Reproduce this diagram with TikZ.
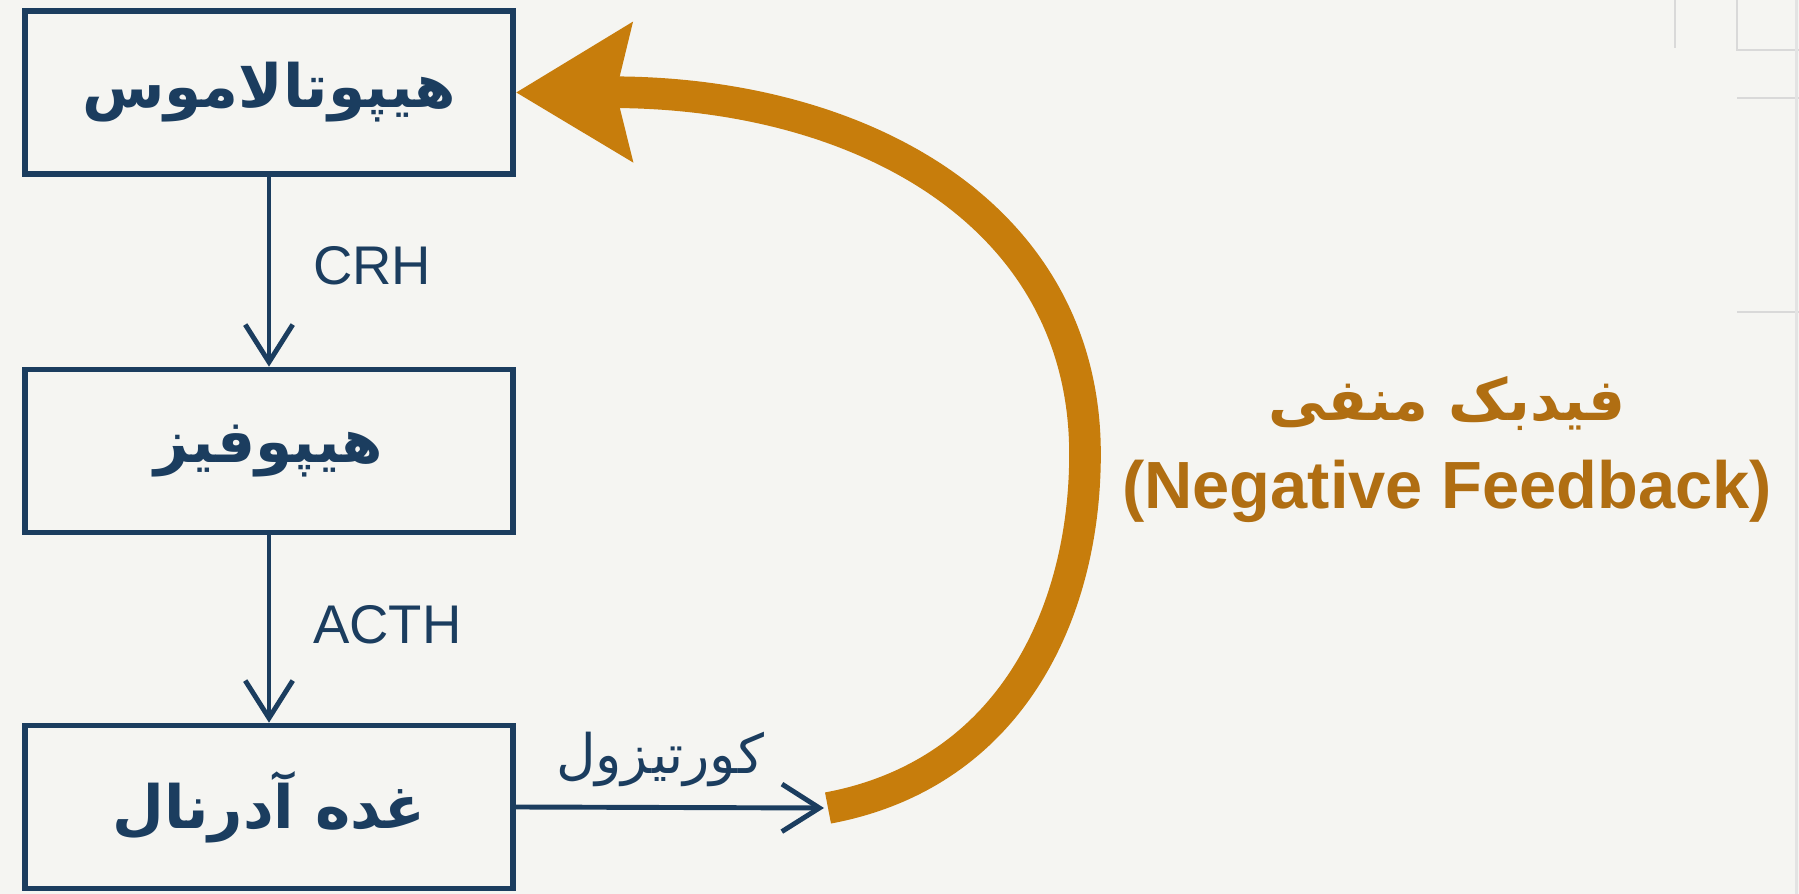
\documentclass[tikz,border=0pt]{standalone}
\usepackage{fontspec}
\setmainfont{Liberation Sans}
\newfontfamily\fafont[Script=Arabic]{DejaVu Sans}
\TeXXeTstate=1
\usetikzlibrary{arrows.meta,positioning}
\definecolor{navy}{HTML}{1B3D5F}
\definecolor{fborange}{HTML}{C77D0C}
\definecolor{fbtext}{HTML}{B06E12}
\definecolor{paper}{HTML}{F5F5F2}

\begin{document}
\begin{tikzpicture}[
  organ/.style={draw=navy, line width=3.2pt, minimum width=9.76cm, minimum height=3.26cm,
    text=navy, font=\fafont\bfseries\fontsize{34}{40}\selectfont},
  hormone/.style={text=navy, anchor=west, font=\fontsize{31}{36}\selectfont},
  flow/.style={draw=navy, line width=2.8pt, -{Straight Barb[length=0.75cm,width=0.95cm]}},
  feedback/.style={draw=fborange, line width=18pt, -{Stealth[length=2.3cm,width=2.7cm,inset=0.3cm]}},
  margin/.style={draw=gray!30, line width=1.6pt}
]

  % =========================
  % paper
  % =========================
  \fill[paper] (0,0) rectangle (35.98,17.88);
  \useasboundingbox (0,0) rectangle (35.98,17.88);

  % faint page lines, top right
  \draw[margin] (33.5,17.88) -- (33.5,16.92);
  \draw[margin] (34.74,17.88) -- (34.74,16.88) -- (35.98,16.88);
  \draw[margin] (34.74,15.92) -- (35.98,15.92);
  \draw[margin] (34.74,11.64) -- (35.98,11.64);
  \draw[margin, draw=gray!22] (35.93,17.88) -- (35.93,0);

  % =========================
  % axis of glands
  % =========================
  \node[organ] (hypo)    at (5.38,16.03) {\beginR هیپوتالاموس\endR};
  \node[organ] (pit)     at (5.38,8.86)  {\beginR هیپوفیز\endR};
  \node[organ] (adrenal) at (5.38,1.74)  {\beginR غده آدرنال\endR};

  \draw[flow] (hypo) -- (pit);
  \draw[flow] (pit) -- (adrenal);

  \node[hormone] (crh)  at (6.14,12.56) {CRH};
  \node[hormone] (acth) at (6.14,5.38)  {ACTH};

  % cortisol output
  \coordinate (cortEnd) at (16.48,1.72);
  \draw[flow] (adrenal.east) -- (cortEnd);
  \node[text=navy, font=\fafont\fontsize{31}{36}\selectfont] (cort) at (13.2,2.7)
    {\beginR کورتیزول\endR};

  % =========================
  % negative feedback loop
  % =========================
  \coordinate (fbStart) at (16.56,1.72);
  \draw[feedback] (fbStart)
    .. controls (20.2,2.4) and (21.7,5.6) .. (21.7,8.8)
    .. controls (21.7,13.6) and (17.2,16.05) .. (hypo.east);

  \node[text=fbtext, font=\fafont\bfseries\fontsize{33}{40}\selectfont] (fbfa) at (28.94,9.8)
    {\beginR فیدبک منفی\endR};
  \node[text=fbtext, font=\bfseries\fontsize{38}{44}\selectfont] (fben) at (28.94,8.06)
    {(Negative Feedback)};

\end{tikzpicture}
\end{document}
